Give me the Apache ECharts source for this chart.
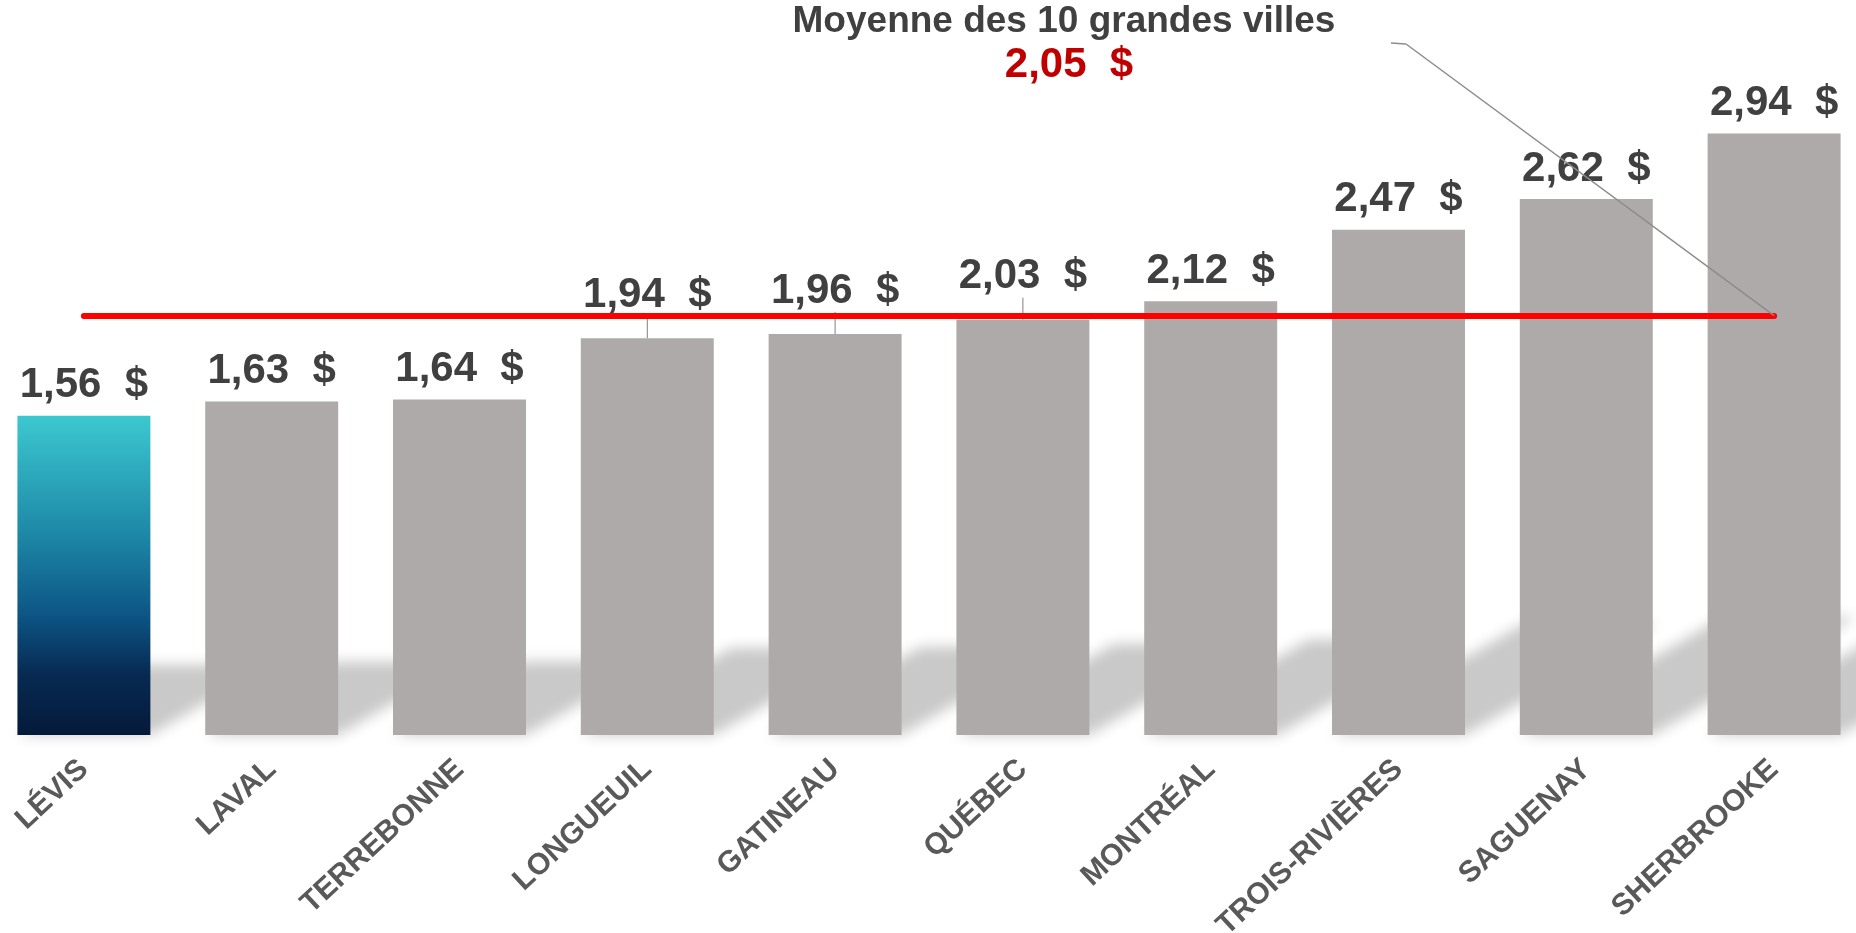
<!DOCTYPE html>
<html>
<head>
<meta charset="utf-8">
<title>Moyenne des 10 grandes villes</title>
<script src="https://cdn.jsdelivr.net/npm/echarts@6/dist/echarts.min.js"></script>
<style>
    html, body { margin: 0; padding: 0; background: #ffffff; }
    #container { width: 1856px; height: 933px; }
</style>
</head>
<body>
<div id="container"></div>
<script>
var cities = ['LÉVIS', 'LAVAL', 'TERREBONNE', 'LONGUEUIL', 'GATINEAU', 'QUÉBEC', 'MONTRÉAL', 'TROIS-RIVIÈRES', 'SAGUENAY', 'SHERBROOKE'];
var costs = [1.56, 1.63, 1.64, 1.94, 1.96, 2.03, 2.12, 2.47, 2.62, 2.94];
var average = 2.05;
var averageTitle = 'Moyenne des 10 grandes villes';
var highlightCity = 'LÉVIS';

var fontFamily = '"Liberation Sans", Arial, sans-serif';

function money(v){
    return v.toFixed(2).replace('.', ',') + '  $';
}

// barres : Lévis en dégradé, les autres en gris
var barData = [];
for(var i = 0; i < costs.length; i++){
    var item = { value: costs[i] };
    if(cities[i] == highlightCity){
        item.itemStyle = {
            color: new echarts.graphic.LinearGradient(0, 0, 0, 1, [
                { offset: 0, color: '#3cc8d0' },
                { offset: 0.36, color: '#1e8aa8' },
                { offset: 0.62, color: '#0d5686' },
                { offset: 0.81, color: '#072a52' },
                { offset: 1, color: '#041a3a' }
            ])
        };
    }
    // étiquettes trop proches de la ligne rouge : remontées avec un trait
    if(costs[i] < average && average - costs[i] < 0.2){
        item.labelLine = { show: true, lineStyle: { color: '#7f7f7f', width: 1 } };
    }
    barData.push(item);
}

var shadowData = [];
for(var j = 0; j < costs.length; j++){
    shadowData.push([j, costs[j]]);
}

var dom = document.getElementById('container');
var myChart = echarts.init(dom);

var option = {
    animation: false,
    grid: { left: -10, right: -12, top: 19, bottom: 198, outerBoundsMode: 'none', containLabel: false },
    xAxis: {
        type: 'category',
        data: cities,
        axisLine: { show: false },
        axisTick: { show: false },
        axisLabel: {
            interval: 0,
            rotate: 43,
            margin: 30,
            color: '#595959',
            fontFamily: fontFamily,
            fontWeight: 'bold',
            fontSize: 30
        }
    },
    yAxis: {
        type: 'value',
        min: 0,
        max: 3.5,
        show: false,
        splitLine: { show: false }
    },
    graphic: [
        {
            type: 'text',
            x: 1064,
            y: 22,
            style: {
                text: averageTitle,
                font: 'bold 37px ' + fontFamily,
                fill: '#404040',
                align: 'center',
                verticalAlign: 'middle'
            }
        },
        {
            type: 'text',
            x: 1069,
            y: 65,
            style: {
                text: money(average),
                font: 'bold 42px ' + fontFamily,
                fill: '#c00000',
                align: 'center',
                verticalAlign: 'middle'
            }
        }
    ],
    series: [
        {
            // ombre portée au pied des barres
            type: 'custom',
            z: 1,
            silent: true,
            data: shadowData,
            renderItem: function(params, api){
                var idx = api.value(0);
                var top = api.coord([idx, api.value(1)]);
                var base = api.coord([idx, 0]);
                var w = api.size([1, 0])[0] * 0.708;
                var h = (base[1] - top[1]) * 0.22;
                var s = h / 0.58;
                var x0 = base[0] - w / 2, x1 = base[0] + w / 2, y = base[1];
                var off = 4000;
                return {
                    type: 'polygon',
                    shape: { points: [[x0 - off, y], [x1 - off, y], [x1 + s - off, y - h], [x0 + s - off, y - h]] },
                    style: { fill: '#c9c9c9', shadowColor: '#c9c9c9', shadowBlur: 14, shadowOffsetX: off }
                };
            }
        },
        {
            type: 'bar',
            z: 2,
            data: barData,
            barWidth: '70.8%',
            itemStyle: { color: '#aeaaa9' },
            emphasis: { disabled: true },
            label: {
                show: true,
                position: 'top',
                distance: 9,
                offset: [6, 0],
                color: '#404040',
                fontFamily: fontFamily,
                fontWeight: 'bold',
                fontSize: 42,
                formatter: function(p){
                    return money(p.value);
                }
            },
            labelLayout: function(p){
                var v = costs[p.dataIndex];
                if(v < average && average - v < 0.2){
                    return { dy: -13 };
                }
                return {};
            },
            markLine: {
                silent: true,
                symbol: 'none',
                label: { show: false },
                data: [
                    [
                        { coord: [0, average], lineStyle: { color: '#ff0000', width: 6, cap: 'round', type: 'solid' } },
                        { coord: [cities.length - 1, average] }
                    ],
                    [
                        { x: 1391, y: 43, lineStyle: { color: '#8c8c8c', width: 1.5, type: 'solid' } },
                        { x: 1406, y: 44 }
                    ],
                    [
                        { x: 1406, y: 44, lineStyle: { color: '#8c8c8c', width: 1.5, type: 'solid' } },
                        { coord: [cities.length - 1, average] }
                    ]
                ]
            }
        }
    ]
};

if (option && typeof option === "object") {
    myChart.setOption(option, true);
}
</script>
</body>
</html>
